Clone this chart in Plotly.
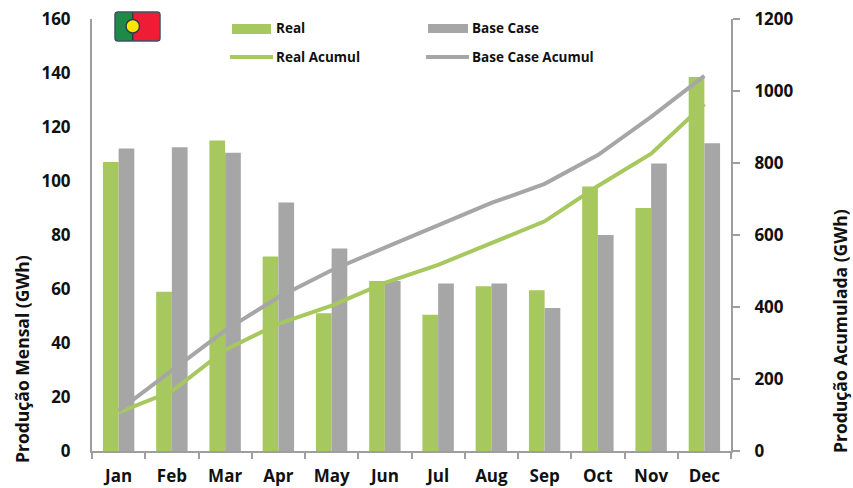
import plotly.graph_objects as go

months = ["Jan", "Feb", "Mar", "Apr", "May", "Jun", "Jul", "Aug", "Sep", "Oct", "Nov", "Dec"]
real = [107, 59, 115, 72, 51, 63, 50.5, 61, 59.5, 98, 90, 138.5]
base = [112, 112.5, 110.5, 92, 75, 63, 62, 62, 53, 80, 106.5, 114]
real_acum = [107, 166, 281, 353, 404, 467, 517, 578, 638, 736, 826, 964]
base_acum = [112, 225, 335, 427, 502, 565, 627, 689, 742, 822, 928, 1042]

GREEN = "#A6C85F"
GRAY = "#A6A6A6"
AXIS = "#9E9E9E"
FONT = "Open Sans"
INK = "#111111"
W, H = 853, 488
L, R, T, B = 92, 731, 19, 451


def px(x):
    return (x - L) / (R - L)


def py(y):
    return (B - y) / (B - T)


fig = go.Figure()
fig.add_bar(x=months, y=real, name="Real", marker_color=GREEN, marker_line_width=0)
fig.add_bar(x=months, y=base, name="Base Case", marker_color=GRAY, marker_line_width=0)
fig.add_scatter(x=months, y=real_acum, name="Real Acumul", yaxis="y2", mode="lines",
                line=dict(color=GREEN, width=4))
fig.add_scatter(x=months, y=base_acum, name="Base Case Acumul", yaxis="y2", mode="lines",
                line=dict(color=GRAY, width=4))

axis_common = dict(showgrid=False, zeroline=False, showline=True, linecolor=AXIS, linewidth=2,
                   automargin=False, ticklabeloverflow="allow",
                   tickfont=dict(family=FONT, size=17, color=INK, weight="bold"))


def rect(x0, x1, y0, y1, color):
    return dict(type="rect", xref="paper", yref="paper", x0=px(x0), x1=px(x1), y0=py(y1), y1=py(y0),
                fillcolor=color, line_width=0, layer="above")


def hline(x0, x1, y, color):
    return dict(type="line", xref="paper", yref="paper", x0=px(x0), x1=px(x1), y0=py(y), y1=py(y),
                line=dict(color=color, width=4), layer="above")


shapes = [
    rect(232, 271, 24, 34, GREEN),
    rect(428, 468, 24, 33, GRAY),
    hline(230, 273, 57, GREEN),
    hline(426, 469, 57, GRAY),
    rect(115, 133, 12, 41, "#1F8A45"),
    rect(133, 160, 12, 41, "#EE1C35"),
    dict(type="line", xref="paper", yref="paper", x0=px(132.7), x1=px(132.7), y0=py(41), y1=py(12),
         line=dict(color="#24414F", width=1.5)),
    dict(type="circle", xref="paper", yref="paper", x0=px(126), x1=px(139.5), y0=py(33), y1=py(19.5),
         fillcolor="#FFE600", line=dict(color="#24414F", width=1.5)),
    dict(type="path", xref="paper", yref="paper",
         path=f"M{px(118)},{py(12)} L{px(157)},{py(12)} Q{px(160)},{py(12)} {px(160)},{py(15)} "
              f"L{px(160)},{py(38)} Q{px(160)},{py(41)} {px(157)},{py(41)} "
              f"L{px(118)},{py(41)} Q{px(115)},{py(41)} {px(115)},{py(38)} "
              f"L{px(115)},{py(15)} Q{px(115)},{py(12)} {px(118)},{py(12)} Z",
         line=dict(color="#3A5566", width=1.5)),
]


def label(text, x, y):
    return dict(text=text, xref="paper", yref="paper", x=px(x), y=py(y), xanchor="left", yanchor="middle",
                showarrow=False, xshift=-2, font=dict(family=FONT, size=13.5, color=INK, weight="bold"))


def vtitle(text, x, y):
    return dict(text=text, xref="paper", yref="paper", x=px(x), y=py(y), xanchor="center", yanchor="middle",
                textangle=-90, showarrow=False, font=dict(family=FONT, size=17.5, color=INK, weight="bold"))


annotations = [
    label("Real", 276, 28), label("Base Case", 472, 28),
    label("Real Acumul", 276, 57), label("Base Case Acumul", 472, 57),
    vtitle("Produção Mensal (GWh)", 22, 359),
    vtitle("Produção Acumulada (GWh)", 840, 331),
]

fig.update_layout(
    width=W, height=H, autosize=False,
    margin=dict(l=L, r=W - R, t=T, b=H - B),
    paper_bgcolor="white", plot_bgcolor="white",
    barmode="group", bargap=0.41, bargroupgap=0,
    xaxis=dict(tickson="boundaries", ticks="outside", tickcolor=AXIS, tickwidth=2, ticklen=6,
               ticklabelstandoff=9, **axis_common),
    yaxis=dict(range=[0, 160], dtick=20, ticks="", ticklabelstandoff=16, **axis_common),
    yaxis2=dict(range=[0, 1200], dtick=200, overlaying="y", side="right", anchor="x",
                ticks="outside", tickcolor=AXIS, tickwidth=2, ticklen=7, ticklabelstandoff=11,
                **axis_common),
    shapes=shapes, annotations=annotations, showlegend=False,
)

fig.write_html("out.html", config={"displayModeBar": False},
               post_script="document.body.style.margin='0';document.documentElement.style.overflow='hidden';")
